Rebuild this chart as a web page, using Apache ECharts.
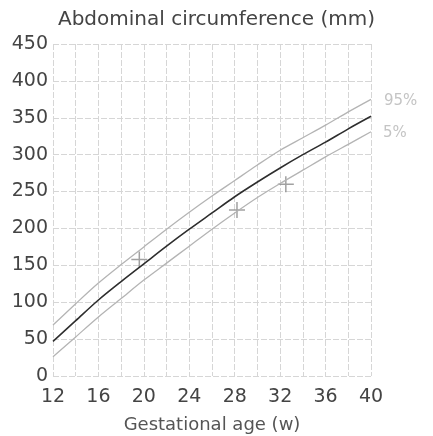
<!DOCTYPE html>
<html>
<head>
<meta charset="utf-8">
<script src="https://cdn.jsdelivr.net/npm/echarts@6/dist/echarts.min.js"></script>
<style>
  html, body { margin: 0; padding: 0; background: #fff; }
  #chart { width: 433px; height: 436px; }
</style>
</head>
<body>
<div id="chart"></div>
<script>
// Gestational age in weeks
const weeks = [12, 14, 16, 18, 20, 22, 24, 26, 28, 30, 32, 34, 36, 38, 40];
// Abdominal circumference percentiles (mm)
const p95 = [69, 98, 126, 151, 175, 199, 222, 244, 265, 286, 306, 323, 340, 358, 375];
const p50 = [47, 75, 103, 128, 152, 176, 199, 221, 243, 263, 282, 300, 317, 335, 352];
const p5  = [26, 53, 80, 105, 130, 153, 176, 199, 221, 242, 261, 279, 297, 314, 331];
// Individual measurements [week, mm]
const measurements = [[19.6, 158], [28.2, 225], [32.5, 260]];
const xTicks = [12, 16, 20, 24, 28, 32, 36, 40];
const yMax = 450;

const font = 'DejaVu Sans';
const pair = (arr) => weeks.map((w, i) => [w, arr[i]]);

const chart = echarts.init(document.getElementById('chart'), null, { renderer: 'canvas' });
chart.setOption({
  animation: false,
  title: {
    text: 'Abdominal circumference (mm)',
    left: 'center',
    top: 5,
    textStyle: { fontFamily: font, fontSize: 20, fontWeight: 'normal', color: '#444' }
  },
  grid: { left: 53, right: 62, top: 44, bottom: 60, containLabel: false, outerBoundsMode: 'none' },
  xAxis: {
    type: 'value',
    min: 12, max: 40, interval: 2,
    name: 'Gestational age (w)',
    nameLocation: 'middle',
    nameGap: 40,
    nameTextStyle: { fontFamily: font, fontSize: 18, color: '#555' },
    axisLine: { show: false },
    axisTick: { show: false },
    axisLabel: {
      fontFamily: font, fontSize: 19, color: '#444', margin: 12,
      formatter: (v) => xTicks.includes(v) ? String(v) : ''
    },
    splitLine: { show: true, lineStyle: { color: '#d6d6d6', type: [6, 2], width: 1 } }
  },
  yAxis: {
    type: 'value',
    min: 0, max: yMax, interval: 50,
    axisLine: { show: false },
    axisTick: { show: false },
    axisLabel: { fontFamily: font, fontSize: 19, color: '#444', margin: 5 },
    splitLine: { show: true, lineStyle: { color: '#d6d6d6', type: [6, 2], width: 1 } }
  },
  series: [
    {
      name: '95%', type: 'line', data: pair(p95), symbol: 'none', smooth: 0.3,
      lineStyle: { color: '#b4b4b4', width: 1.3 },
      endLabel: { show: true, formatter: '95%', color: '#c4c4c4', fontFamily: font, fontSize: 15, distance: 13, offset: [0, 2] }
    },
    {
      name: '50%', type: 'line', data: pair(p50), symbol: 'none', smooth: 0.3,
      lineStyle: { color: '#2e2e2e', width: 1.6 }
    },
    {
      name: '5%', type: 'line', data: pair(p5), symbol: 'none', smooth: 0.3,
      lineStyle: { color: '#b4b4b4', width: 1.3 },
      endLabel: { show: true, formatter: '5%', color: '#c4c4c4', fontFamily: font, fontSize: 15, distance: 12, offset: [0, 1] }
    },
    {
      name: 'measurement', type: 'scatter', data: measurements,
      symbol: 'path://M0,-1L0,1M-1,0L1,0', symbolSize: 16,
      itemStyle: { color: 'rgba(0,0,0,0)', borderColor: '#8a8a8a', borderWidth: 1.5 }
    }
  ]
});
</script>
</body>
</html>
